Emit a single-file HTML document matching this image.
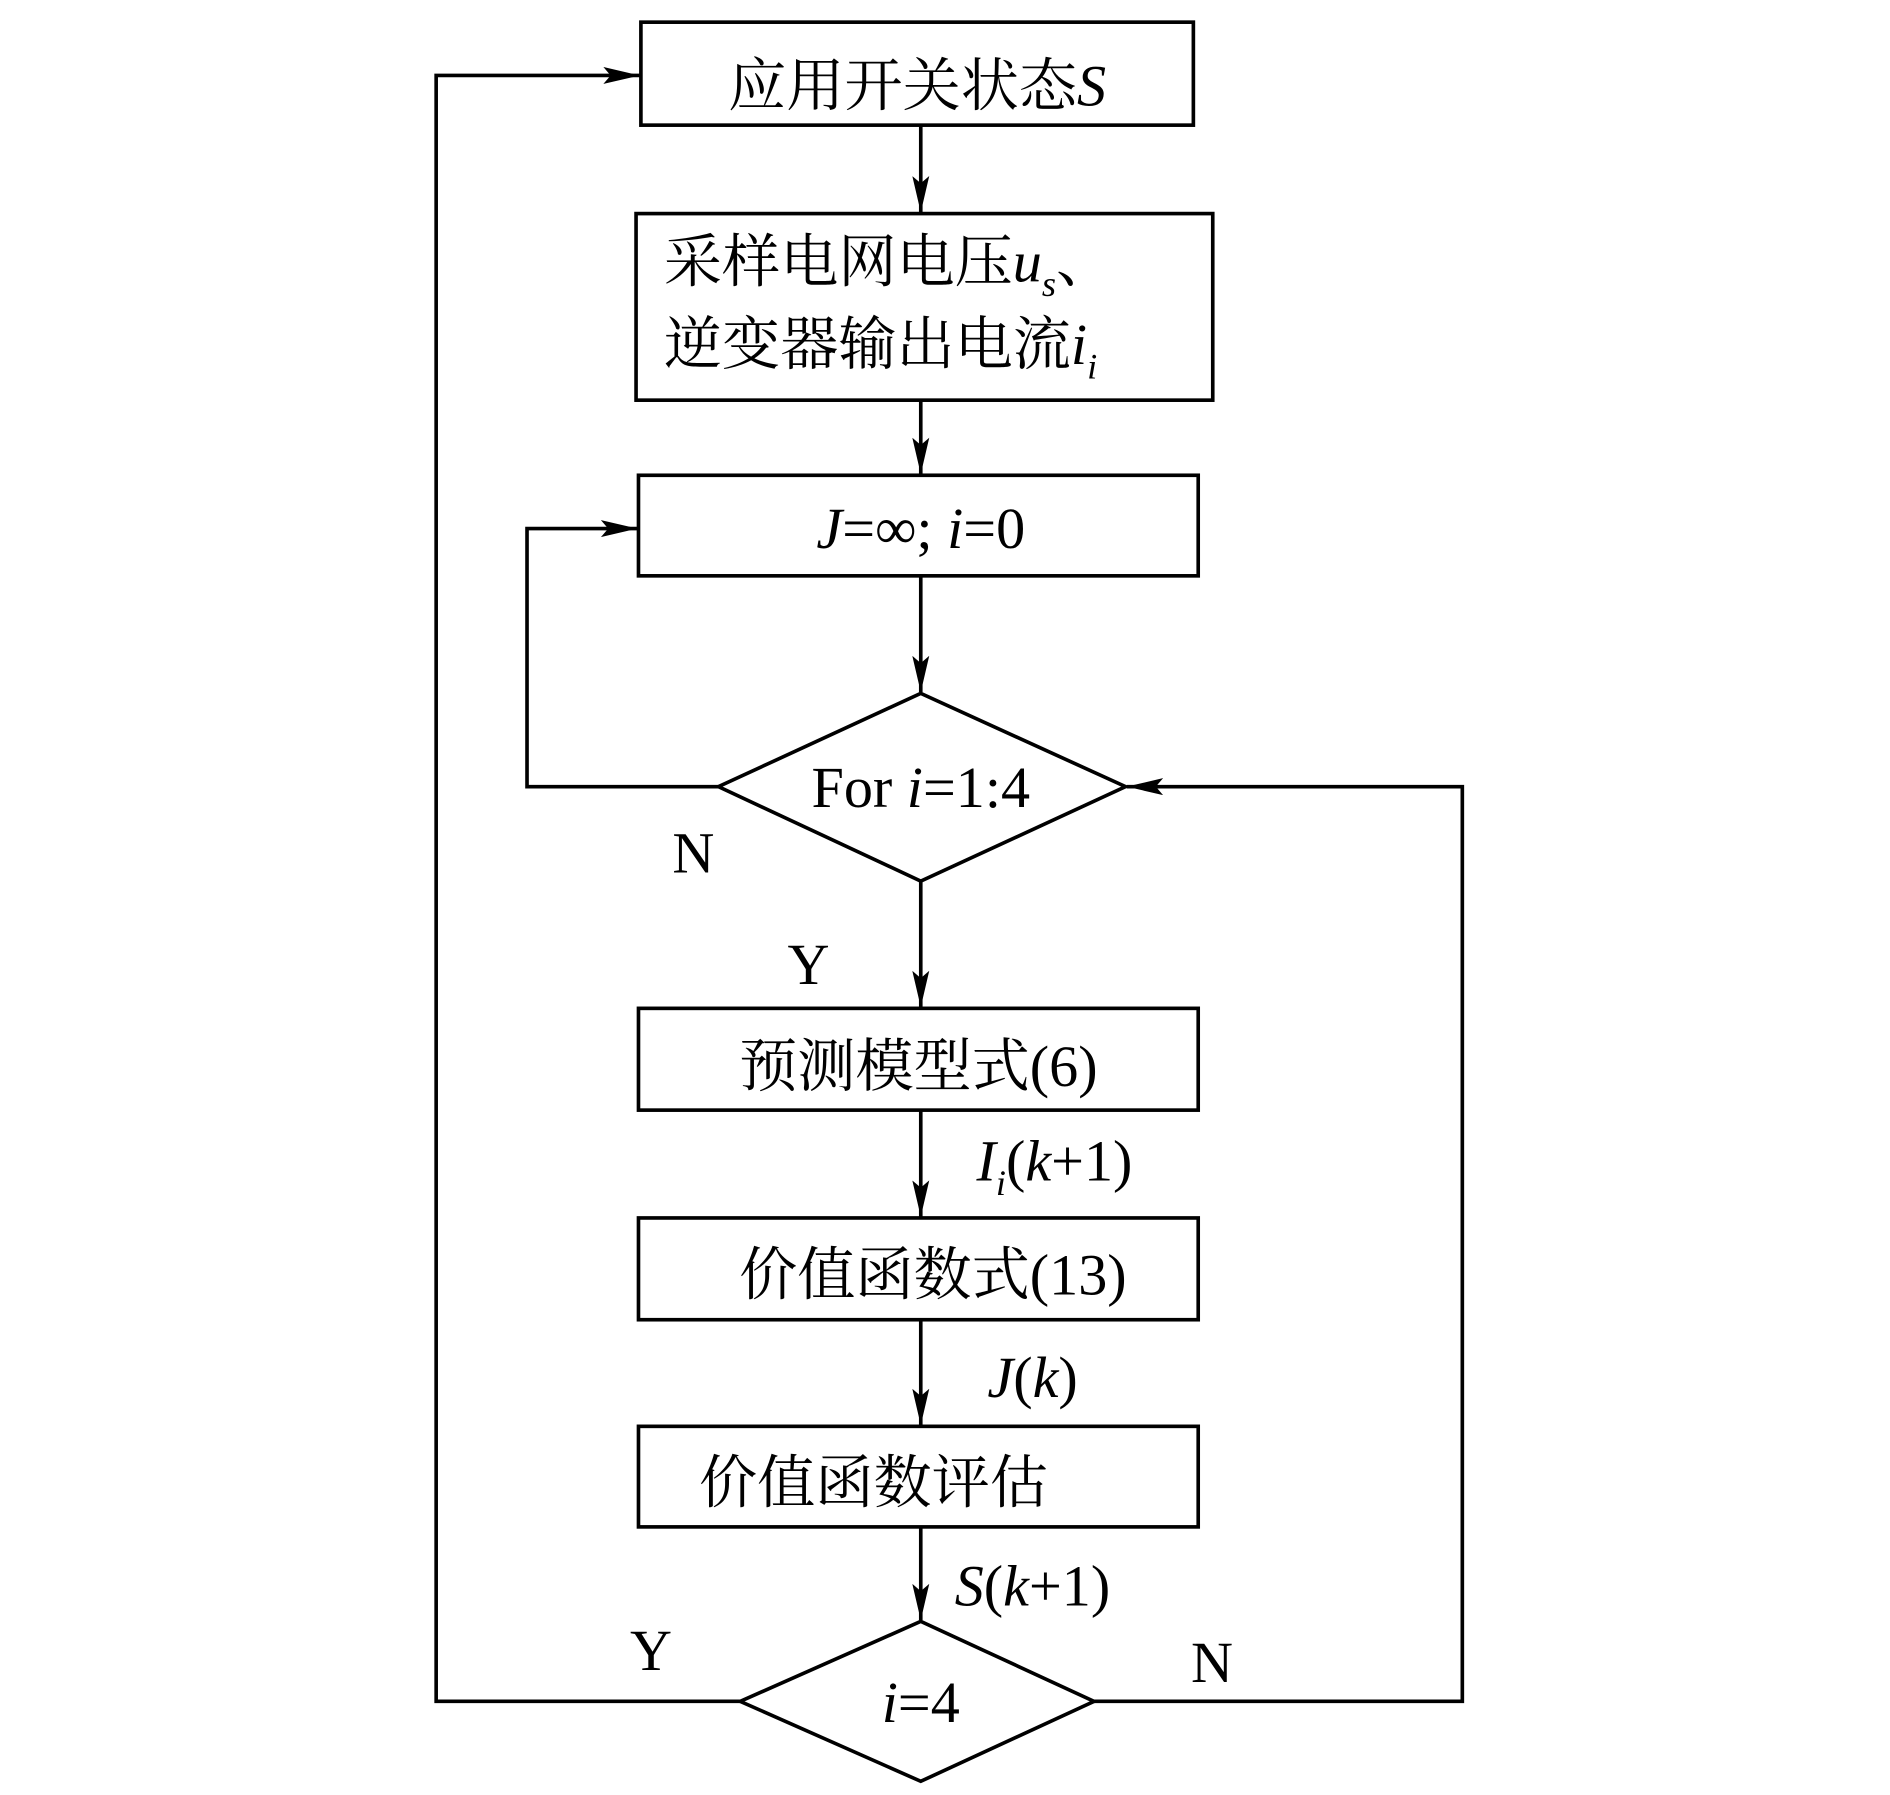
<!DOCTYPE html>
<html><head><meta charset="utf-8"><style>
html,body{margin:0;padding:0;background:#fff;}
svg{display:block;}
text{font-family:"Liberation Serif","Noto Serif CJK SC",serif;fill:#000;}
</style></head><body>
<svg width="1890" height="1795" viewBox="0 0 1560 1481" xmlns="http://www.w3.org/2000/svg">
<defs><marker id="a" markerWidth="10" markerHeight="8" refX="10" refY="4" orient="auto" markerUnits="userSpaceOnUse" viewBox="0 0 10 8"><path d="M0,0 L10,4 L0,8 z" fill="#000"/></marker>
<marker id="b" markerWidth="30" markerHeight="14" refX="30" refY="7" orient="auto" markerUnits="userSpaceOnUse"><path d="M0,0 L30,7 L0,14 L6,7 z" fill="#000"/></marker></defs>
<g fill="none" stroke="#000" stroke-width="3">
<rect x="529" y="18" width="456" height="85"/>
<rect x="525" y="176" width="476" height="154"/>
<rect x="527" y="392" width="462" height="83"/>
<polygon points="760,572 929,649 760,727 593,649"/>
<rect x="527" y="832" width="462" height="84"/>
<rect x="527" y="1005" width="462" height="84"/>
<rect x="527" y="1177" width="462" height="83"/>
<polygon points="760,1338 903,1404 760,1470 611,1404"/>
<g marker-end="url(#b)">
<line x1="760" y1="103" x2="760" y2="175"/>
<line x1="760" y1="330" x2="760" y2="391"/>
<line x1="760" y1="475" x2="760" y2="571"/>
<line x1="760" y1="727" x2="760" y2="831"/>
<line x1="760" y1="916" x2="760" y2="1004"/>
<line x1="760" y1="1089" x2="760" y2="1176"/>
<line x1="760" y1="1260" x2="760" y2="1337"/>
<polyline points="593,649 435,649 435,436 526,436"/>
<polyline points="611,1404 360,1404 360,62 528,62"/>
<polyline points="903,1404 1207,1404 1207,649 930,649"/>
</g></g>
<g font-size="48">
<text x="757" y="87" text-anchor="middle">应用开关状态<tspan font-style="italic">S</tspan></text>
<text x="548" y="232">采样电网电压<tspan font-style="italic">u</tspan><tspan font-style="italic" font-size="30" dy="12">s</tspan><tspan dy="-12">、</tspan></text>
<text x="548" y="300">逆变器输出电流<tspan font-style="italic">i</tspan><tspan font-style="italic" font-size="30" dy="12">i</tspan></text>
<text x="760" y="452" text-anchor="middle"><tspan font-style="italic">J</tspan>=∞; <tspan font-style="italic">i</tspan>=0</text>
<text x="760" y="666" text-anchor="middle">For <tspan font-style="italic">i</tspan>=1:4</text>
<text x="555" y="720">N</text>
<text x="650" y="812">Y</text>
<text x="758" y="896" text-anchor="middle">预测模型式(6)</text>
<text x="806" y="974"><tspan font-style="italic">I</tspan><tspan font-style="italic" font-size="30" dy="12">i</tspan><tspan dy="-12">(</tspan><tspan font-style="italic">k</tspan>+1)</text>
<text x="770" y="1068" text-anchor="middle">价值函数式(13)</text>
<text x="815" y="1153"><tspan font-style="italic">J</tspan>(<tspan font-style="italic">k</tspan>)</text>
<text x="577" y="1240">价值函数评估</text>
<text x="788" y="1325"><tspan font-style="italic">S</tspan>(<tspan font-style="italic">k</tspan>+1)</text>
<text x="520" y="1378">Y</text>
<text x="983" y="1388">N</text>
<text x="760" y="1421" text-anchor="middle"><tspan font-style="italic">i</tspan>=4</text>
</g>
</svg>
</body></html>
